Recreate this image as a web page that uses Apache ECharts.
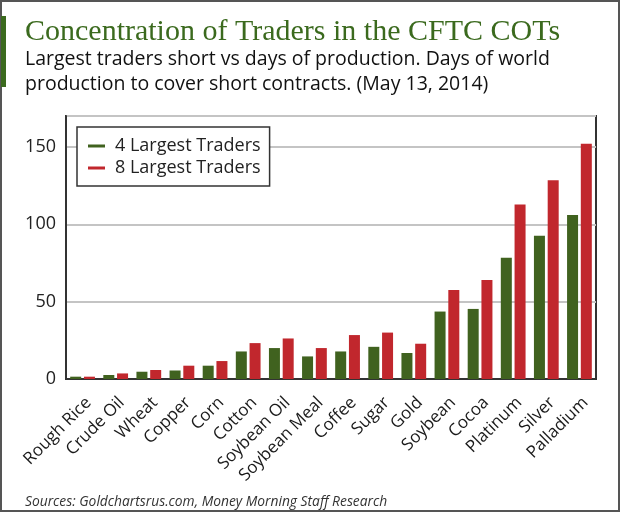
<!DOCTYPE html>
<html>
<head>
<meta charset="utf-8">
<script src="https://cdn.jsdelivr.net/npm/echarts@6/dist/echarts.min.js"></script>
<style>
  html, body { margin: 0; padding: 0; background: #fff; }
  #barChart { width: 620px; height: 512px; }
</style>
</head>
<body>
<div id="barChart"></div>
<script>
// data
var commodities = ['Rough Rice', 'Crude Oil', 'Wheat', 'Copper', 'Corn', 'Cotton', 'Soybean Oil',
  'Soybean Meal', 'Coffee', 'Sugar', 'Gold', 'Soybean', 'Cocoa', 'Platinum', 'Silver', 'Palladium'];
var largest4 = [1.5, 2.6, 4.7, 5.5, 8.6, 17.8, 20, 14.6, 17.8, 20.8, 16.8, 43.6, 45.3, 78.4, 92.6, 106];
var largest8 = [1.5, 3.6, 5.8, 8.6, 11.6, 23.2, 26.2, 20, 28.4, 30, 22.8, 57.6, 64, 112.8, 128.5, 152];
var yTicks = [0, 50, 100, 150];

var green = '#40621f';
var red = '#c1272d';
var sans = '"Open Sans", "Noto Sans", sans-serif';

var myChart = echarts.init(document.getElementById('barChart'));

myChart.setOption({
  animation: false,
  title: [
    {
      text: 'Concentration of Traders in the CFTC COTs',
      left: 20, top: 12,
      textStyle: { fontFamily: '"Liberation Serif", serif', fontWeight: 'normal', fontSize: 30, lineHeight: 30, color: '#3b6a1e' }
    },
    {
      text: 'Largest traders short vs days of production. Days of world\nproduction to cover short contracts. (May 13, 2014)',
      left: 20, top: 42,
      textStyle: { fontFamily: sans, fontWeight: 'normal', fontSize: 19.5, lineHeight: 25, color: '#111' }
    },
    {
      text: 'Sources: Goldchartsrus.com, Money Morning Staff Research',
      left: 20, top: 489,
      textStyle: { fontFamily: sans, fontStyle: 'italic', fontWeight: 'normal', fontSize: 13.8, lineHeight: 16, color: '#333' }
    }
  ],
  graphic: [
    { type: 'rect', shape: { x: 1, y: 1, width: 618, height: 510 }, style: { fill: 'none', stroke: '#555', lineWidth: 2 } },
    { type: 'rect', shape: { x: 1, y: 16, width: 5, height: 71 }, style: { fill: '#3b6a1e' } }
  ],
  legend: {
    orient: 'vertical',
    left: 77, top: 127,
    padding: [8, 9, 7, 11],
    itemGap: 0,
    itemWidth: 17, itemHeight: 3,
    icon: 'rect',
    backgroundColor: '#fff',
    borderColor: '#333', borderWidth: 1.5,
    textStyle: { fontFamily: sans, fontSize: 18, lineHeight: 22, color: '#222', padding: [0, 0, 0, 5] },
    data: ['4 Largest Traders', '8 Largest Traders']
  },
  grid: {
    left: 66, right: 24, top: 116, bottom: 133,
    show: true, borderColor: '#333', borderWidth: 2
  },
  xAxis: {
    type: 'category',
    data: commodities,
    axisLine: { lineStyle: { color: '#333', width: 2 } },
    axisTick: { length: 10, lineStyle: { color: '#444', width: 2 } },
    axisLabel: {
      rotate: 45, margin: 15, verticalAlign: 'top', align: 'right',
      fontFamily: sans, fontSize: 17, color: '#1a1a1a', interval: 0
    }
  },
  yAxis: {
    type: 'value',
    min: 0, max: 170, interval: 50,
    axisLine: { show: true, lineStyle: { color: '#333', width: 2 } },
    axisTick: { show: false },
    axisLabel: {
      margin: 10, fontFamily: sans, fontSize: 18, color: '#222',
      formatter: function (v) { return yTicks.indexOf(v) >= 0 ? v : ''; }
    },
    splitLine: { lineStyle: { color: '#c4c4c4', width: 2 } }
  },
  series: [
    {
      name: '4 Largest Traders', type: 'bar', data: largest4,
      barWidth: 11, barGap: '25%',
      itemStyle: { color: green }
    },
    {
      name: '8 Largest Traders', type: 'bar', data: largest8,
      barWidth: 11,
      itemStyle: { color: red }
    }
  ]
});
</script>
</body>
</html>
